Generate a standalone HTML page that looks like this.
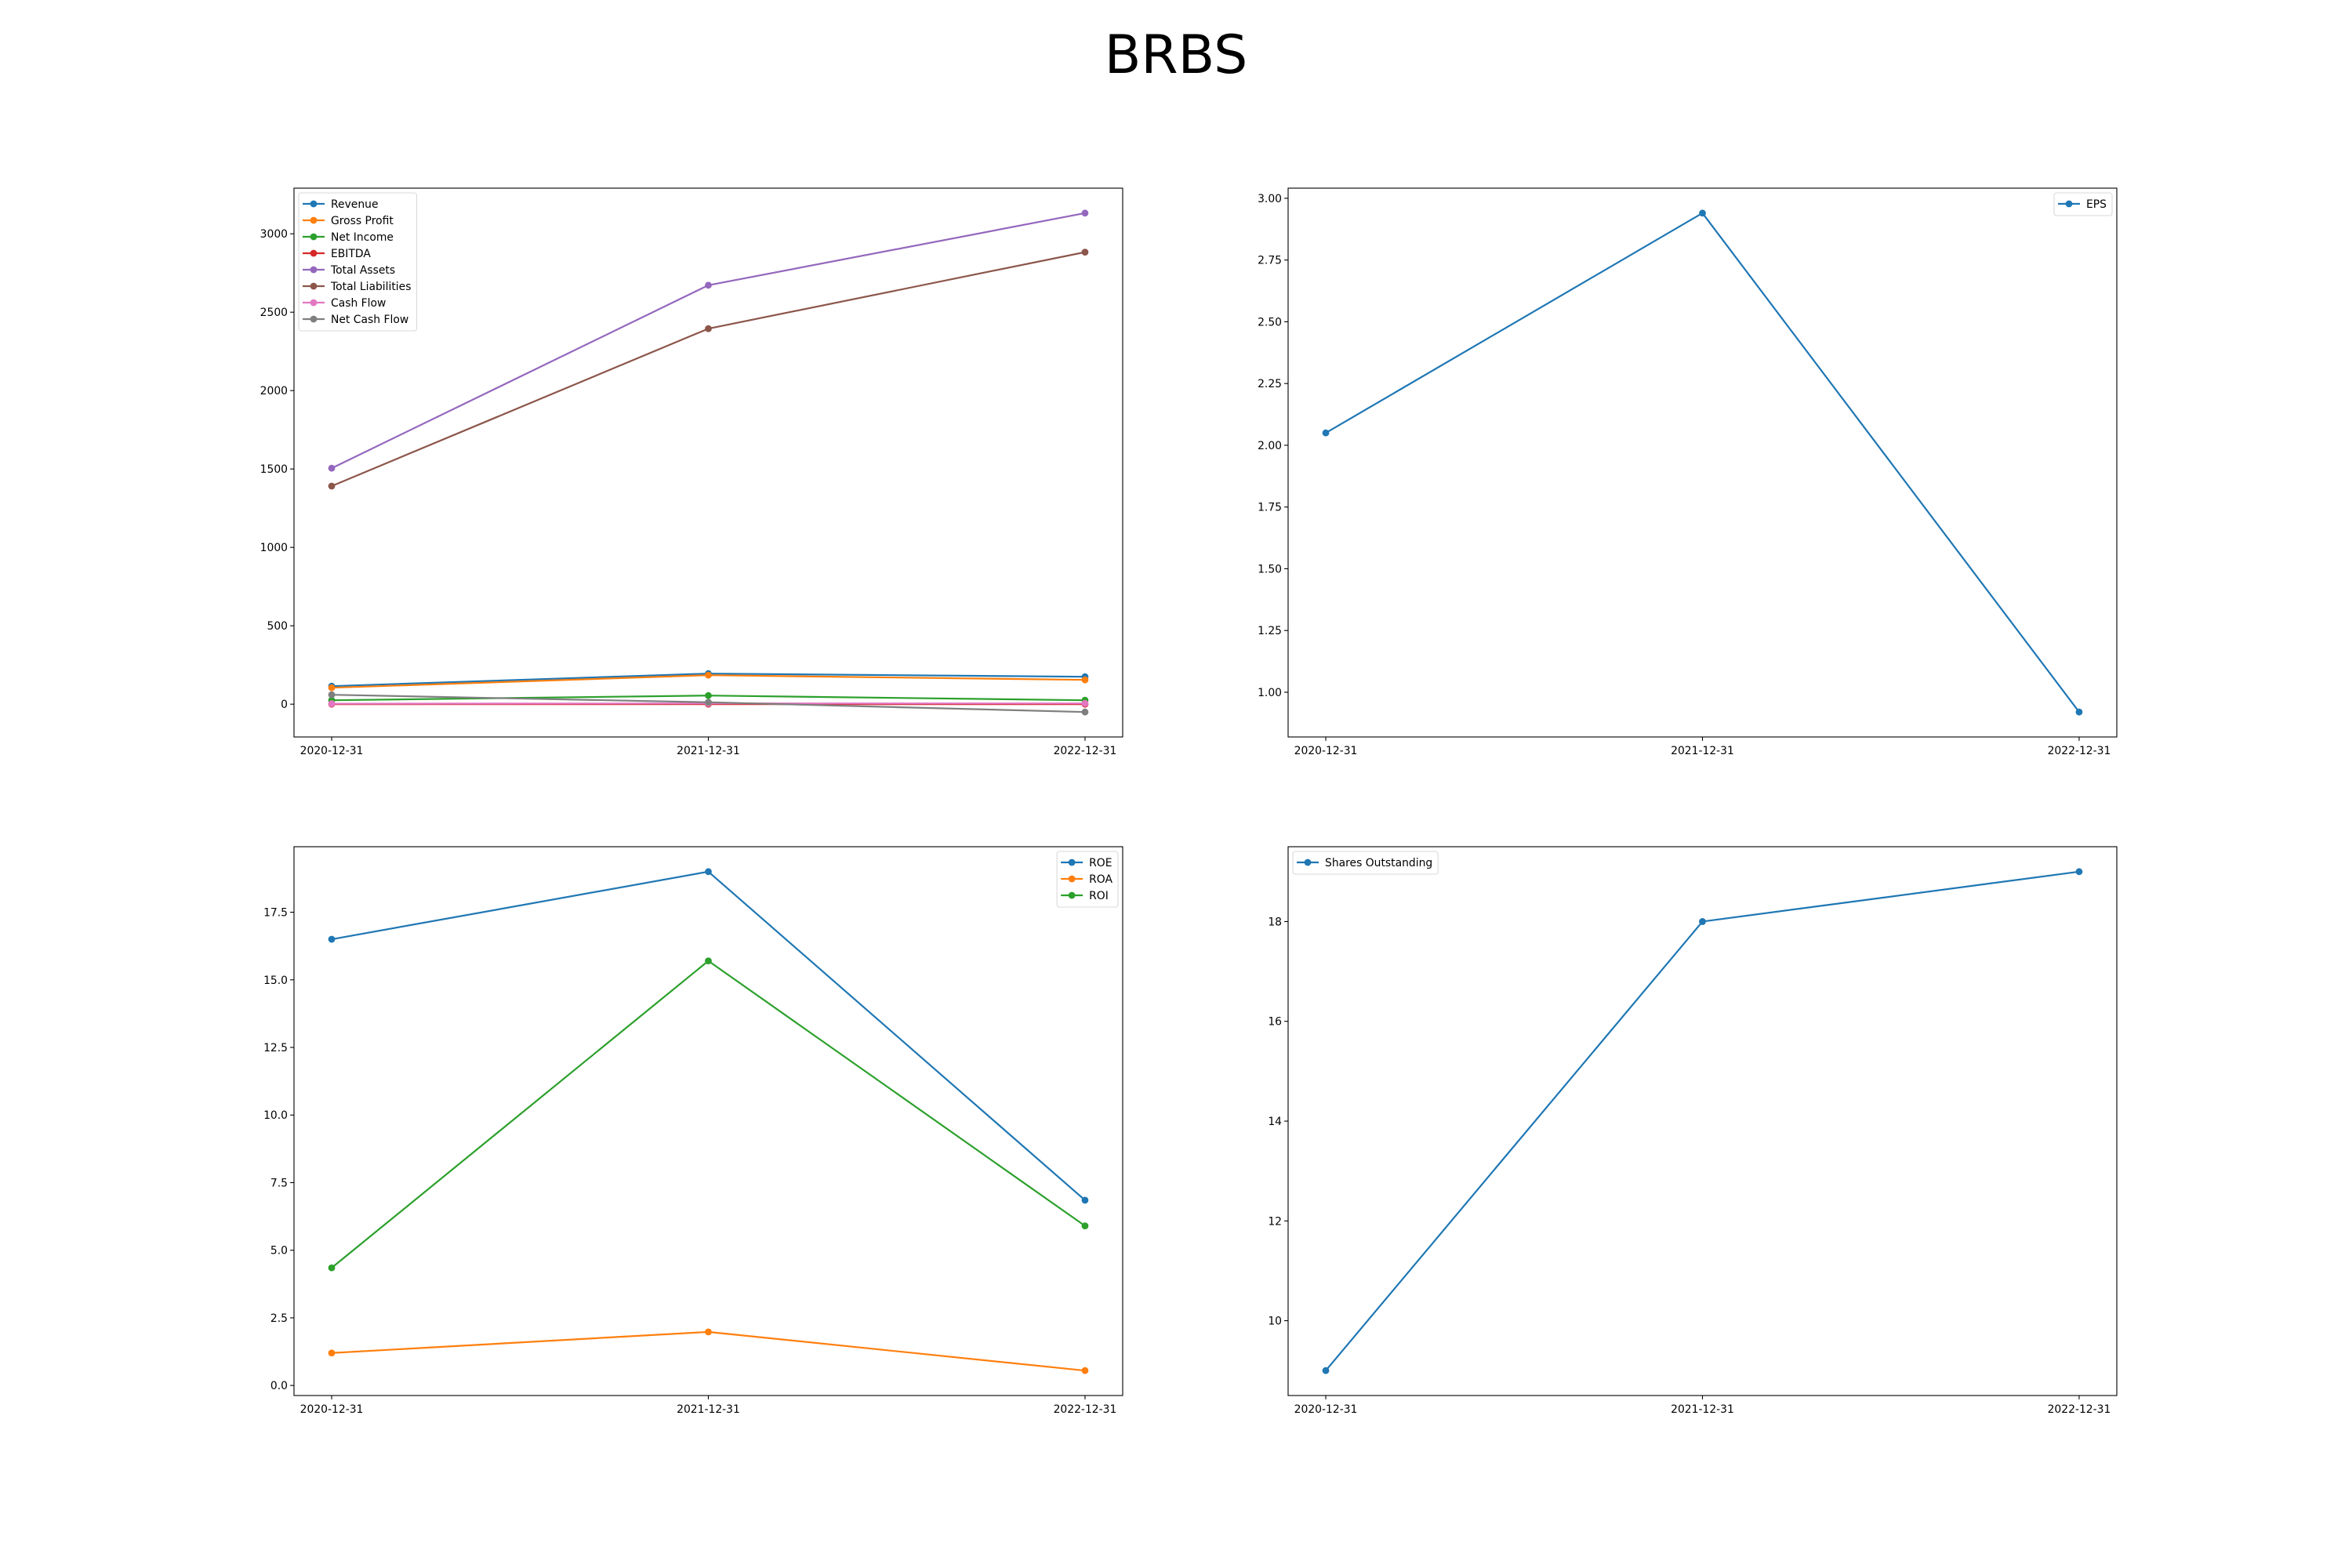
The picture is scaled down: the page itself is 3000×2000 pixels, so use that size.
<!DOCTYPE html>
<html><head><meta charset="utf-8"><style>
html,body{margin:0;padding:0;background:#fff;}
svg{display:block;font-family:"DejaVu Sans","Liberation Sans",sans-serif;}
</style></head><body>
<svg id="fig" width="3000" height="2000" viewBox="0 0 3000 2000" xmlns="http://www.w3.org/2000/svg">
<rect width="3000" height="2000" fill="#fff"/>
<text x="1500" y="93" font-size="68" text-anchor="middle" fill="#000">BRBS</text>
</svg>
<script>
const dates = ["2020-12-31","2021-12-31","2022-12-31"];
const revenue = [115,195,175];
const grossProfit = [105,185,155];
const netIncome = [25,55,25];
const ebitda = [0,0,0];
const totalAssets = [1505,2672,3132];
const totalLiabilities = [1391,2395,2883];
const cashFlow = [3,5,5];
const netCashFlow = [60,12,-50];
const eps = [2.05,2.94,0.92];
const roe = [16.5,19.0,6.85];
const roa = [1.2,1.98,0.55];
const roi = [4.35,15.7,5.9];
const shares = [9,18,19];
const ticks1 = [0,500,1000,1500,2000,2500,3000];
const ticks2 = [1.00,1.25,1.50,1.75,2.00,2.25,2.50,2.75,3.00];
const ticks3 = [0.0,2.5,5.0,7.5,10.0,12.5,15.0,17.5];
const ticks4 = [10,12,14,16,18];

const NS="http://www.w3.org/2000/svg";
const fig=document.getElementById('fig');
function mk(tag,attrs,parent){const e=document.createElementNS(NS,tag);for(const k in attrs)e.setAttribute(k,attrs[k]);(parent||fig).appendChild(e);return e;}

function panel(name,x0,y0,w,h,series,yticks,dec,legendPos){
  const g=mk('g',{});
  
  
  let mn=Infinity,mx=-Infinity;
  series.forEach(s=>s.v.forEach(v=>{mn=Math.min(mn,v);mx=Math.max(mx,v);}));
  const pad=(mx-mn)*0.05; const ymin=mn-pad, ymax=mx+pad;
  const X=i=>x0+w*((i+0.1)/2.2);
  const Y=v=>y0+h-(v-ymin)/(ymax-ymin)*h;
  dates.forEach((d,i)=>{
    const xt=mk('line',{x1:X(i),x2:X(i),y1:y0+h,y2:y0+h+4.9,stroke:'#000','stroke-width':1.1},g);
    
    
    const t=mk('text',{x:X(i),y:y0+h+22,'font-size':13.9,'text-anchor':'middle'},g);
    t.textContent=d;
    
    
  });
  yticks.forEach(v=>{
    const y=Y(v);
    const yt=mk('line',{x1:x0-4.9,x2:x0,y1:y,y2:y,stroke:'#000','stroke-width':1.1},g);
    
    
    const t=mk('text',{x:x0-8,y:y+5,'font-size':13.9,'text-anchor':'end'},g);
    t.textContent=v.toFixed(dec);
    
    
  });
  series.forEach(s=>{
    const pl=mk('polyline',{points:s.v.map((v,i)=>X(i)+','+Y(v)).join(' '),fill:'none',stroke:s.c,'stroke-width':2.2,'stroke-linejoin':'round'},g);
    
    
    s.v.forEach((v,i)=>{
      const c=mk('circle',{cx:X(i),cy:Y(v),r:4.4,fill:s.c},g);
      
      
    });
  });
  const fr=mk('rect',{x:x0,y:y0,width:w,height:h,fill:'none',stroke:'#000','stroke-width':1.1},g);
  
  
  const lg=mk('g',{},g);
  
  
  const bg=mk('rect',{rx:3,fill:'#fff','fill-opacity':0.8,stroke:'#d9d9d9','stroke-width':1.1},lg);
  let maxW=0; const texts=[];
  const rowH=21, lh=8+series.length*rowH;
  series.forEach((s,i)=>{
    const e=mk('g',{},lg);
    
    
    const t=mk('text',{'font-size':13.9},e);
    t.textContent=s.n;
    maxW=Math.max(maxW,t.getComputedTextLength());
    texts.push({e,t,s,i});
  });
  const lw=48+maxW;
  const lx=legendPos==='left'?x0+6:x0+w-6-lw, ly=y0+6;
  bg.setAttribute('x',lx);bg.setAttribute('y',ly);bg.setAttribute('width',lw);bg.setAttribute('height',lh);
  texts.forEach(({e,t,s,i})=>{
    const yy=ly+14+i*rowH;
    mk('line',{x1:lx+5,x2:lx+33,y1:yy,y2:yy,stroke:s.c,'stroke-width':2.2},e);
    mk('circle',{cx:lx+19,cy:yy,r:4.4,fill:s.c},e);
    t.setAttribute('x',lx+41);t.setAttribute('y',yy+5);
  });
}
panel('financials-panel',375,240,1057,700,[
  {id:'revenue',n:'Revenue',v:revenue,c:'#1f77b4'},
  {id:'gross-profit',n:'Gross Profit',v:grossProfit,c:'#ff7f0e'},
  {id:'net-income',n:'Net Income',v:netIncome,c:'#2ca02c'},
  {id:'ebitda',n:'EBITDA',v:ebitda,c:'#d62728'},
  {id:'total-assets',n:'Total Assets',v:totalAssets,c:'#9467bd'},
  {id:'total-liabilities',n:'Total Liabilities',v:totalLiabilities,c:'#8c564b'},
  {id:'cash-flow',n:'Cash Flow',v:cashFlow,c:'#e377c2'},
  {id:'net-cash-flow',n:'Net Cash Flow',v:netCashFlow,c:'#7f7f7f'}
],ticks1,0,'left');
panel('eps-panel',1643,240,1057,700,[{id:'eps',n:'EPS',v:eps,c:'#1f77b4'}],ticks2,2,'right');
panel('ratios-panel',375,1080,1057,700,[
  {id:'roe',n:'ROE',v:roe,c:'#1f77b4'},
  {id:'roa',n:'ROA',v:roa,c:'#ff7f0e'},
  {id:'roi',n:'ROI',v:roi,c:'#2ca02c'}
],ticks3,1,'right');
panel('shares-panel',1643,1080,1057,700,[{id:'shares',n:'Shares Outstanding',v:shares,c:'#1f77b4'}],ticks4,0,'left');
</script>
</body></html>
